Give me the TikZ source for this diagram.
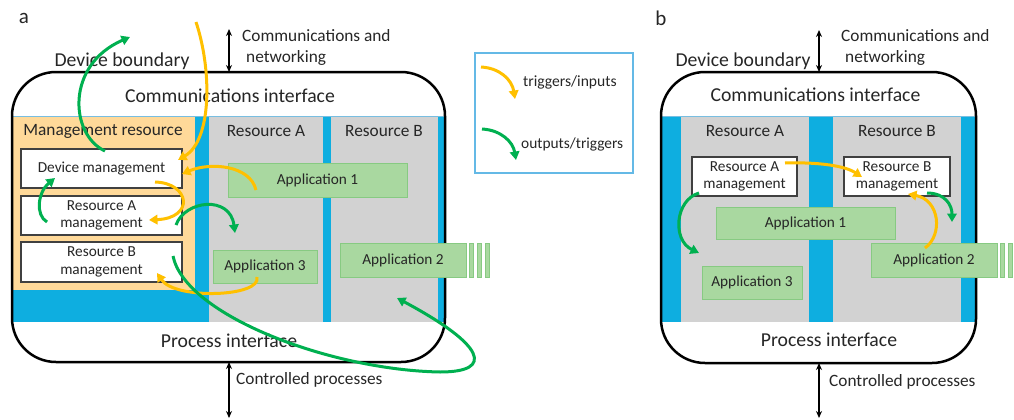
\documentclass[tikz,border=0pt]{standalone}
\usepackage{fontspec}
\setmainfont{Carlito}
\usetikzlibrary{arrows.meta}
\definecolor{cblue}{RGB}{14,174,224}
\definecolor{cgrey}{RGB}{210,210,210}
\definecolor{corange}{RGB}{255,217,153}
\definecolor{cgfill}{RGB}{169,216,160}
\definecolor{cgdraw}{RGB}{135,202,130}
\definecolor{cyel}{RGB}{255,192,0}
\definecolor{cgrn}{RGB}{0,176,80}
\definecolor{ctext}{RGB}{38,38,38}
\definecolor{clegend}{RGB}{100,185,230}
\definecolor{cthin}{RGB}{120,190,225}
\begin{document}
\begin{tikzpicture}[x=1pt,y=-1pt,
  lblbig/.style={font=\fontsize{19.7}{22}\selectfont, text=ctext, inner sep=0},
  lblmid/.style={font=\fontsize{17.3}{21}\selectfont, text=ctext, inner sep=0},
  lblsmall/.style={font=\fontsize{15.3}{17.5}\selectfont, text=ctext, inner sep=0},
  lblpanel/.style={font=\fontsize{21}{24}\selectfont, text=ctext, inner sep=0},
  mbox/.style={lblsmall, draw=black!75, fill=white, line width=1.2pt, align=center},
  appbox/.style={lblsmall, draw=cgdraw, fill=cgfill, line width=1pt},
  barbox/.style={fill=cgfill, draw=cgdraw, line width=0.6pt},
  yarr/.style={draw=cyel, line width=3pt, -{Triangle[length=8.5pt,width=9.5pt]}},
  garr/.style={draw=cgrn, line width=3pt, -{Triangle[length=8.5pt,width=9.5pt]}},
  dblarr/.style={draw=black, line width=1.6pt, {Stealth[length=7pt,width=6pt]}-{Stealth[length=7pt,width=6pt]}},
  boundary/.style={draw=black, line width=2.5pt, rounded corners=44pt},
]
\useasboundingbox (0,0) rectangle (1014,420);

%================ PANEL A ================
\fill[white] (12,72) [rounded corners=44pt] rectangle (445,362);
\fill[cblue] (12,116) rectangle (445,322);
\fill[corange] (12,116) rectangle (195,290);
\fill[cgrey] (209,116) rectangle (323,322);
\fill[cgrey] (331,116) rectangle (438,322);
\draw[cthin, line width=0.8pt] (12,116) -- (445,116);
\draw[boundary] (12,72) rectangle (445,362);

\node[lblpanel] (lbla) at (24,18) {a};
\node[lblbig] (devba) at (122,61) {Device boundary};
\node[lblmid, anchor=west, align=left] (comna) at (242,47) {Communications and\\\hspace{4pt}networking};
\node[lblbig] (cia) at (230,96) {Communications interface};
\node[lblbig] (pia) at (229,341) {Process interface};
\node[lblmid, anchor=west] (cpa) at (236,380) {Controlled processes};
\node[lblmid] (mra) at (103,131) {Management resource};
\node[lblmid] (rla) at (266,131) {Resource A};
\node[lblmid] (rlb) at (384,131) {Resource B};

\node[mbox, minimum width=161pt, minimum height=39pt] (dma) at (101.5,168.5) {Device management};
\node[mbox, minimum width=161pt, minimum height=39pt] (rama) at (101.5,215.5) {Resource A\\management};
\node[mbox, minimum width=161pt, minimum height=40pt] (rbma) at (101.5,262) {Resource B\\management};

\node[appbox, minimum width=179pt, minimum height=34pt] (app1a) at (317.5,180) {Application 1};
\node[appbox, minimum width=104pt, minimum height=33pt] (app3a) at (265,266.5) {Application 3};
\node[appbox, minimum width=126pt, minimum height=34pt] (app2a) at (403,260) {Application 2};
\filldraw[barbox] (469,243) rectangle (473.5,277);
\filldraw[barbox] (477,243) rectangle (481.5,277);
\filldraw[barbox] (485,243) rectangle (489.5,277);

\coordinate (ta1) at (229,29);
\coordinate (ta2) at (229,72);
\coordinate (ba1) at (229,362);
\coordinate (ba2) at (229,418);
\draw[dblarr] (ta1) -- (ta2);
\draw[dblarr] (ba1) -- (ba2);

% arrows panel a
\coordinate (y1s) at (196,22);   \coordinate (y1e) at (178,160);
\coordinate (y2s) at (256,190);  \coordinate (y2e) at (182,174);
\coordinate (y3s) at (155,182);  \coordinate (y3e) at (149,220);
\coordinate (y4s) at (257,277);  \coordinate (y4e) at (157,273);
\coordinate (g1s) at (105,151);  \coordinate (g1e) at (130,37);
\coordinate (g2s) at (47,222);   \coordinate (g2e) at (55,178);
\coordinate (g3s) at (176,225);  \coordinate (g3e) at (235,233);
\coordinate (g4s) at (173,256);  \coordinate (g4m) at (440,372); \coordinate (g4e) at (397,298);
\draw[yarr] (y1s) .. controls (212,70) and (212,140) .. (y1e);
\draw[yarr] (y2s) .. controls (250,165) and (210,162) .. (y2e);
\draw[yarr] (y3s) .. controls (190,183) and (195,218) .. (y3e);
\draw[yarr] (y4s) .. controls (262,297) and (175,300) .. (y4e);
\draw[garr] (g1s) .. controls (70,135) and (65,65) .. (g1e);
\draw[garr] (g2s) .. controls (35,215) and (38,192) .. (g2e);
\draw[garr] (g3s) .. controls (185,200) and (230,195) .. (g3e);
\draw[garr] (g4s) .. controls (185,315) and (330,370) .. (g4m) .. controls (495,372) and (485,345) .. (g4e);

%================ LEGEND ================
\node[draw=clegend, line width=1.2pt, minimum width=158pt, minimum height=120pt, inner sep=0] (leg) at (554,113) {};
\coordinate (lys) at (481,67);  \coordinate (lye) at (515,99);
\coordinate (lgs) at (482,129); \coordinate (lge) at (516,160);
\draw[yarr] (lys) .. controls (500,68) and (512,80) .. (lye);
\draw[garr] (lgs) .. controls (501,130) and (513,142) .. (lge);
\node[lblsmall, anchor=west, font=\fontsize{15.6}{18}\selectfont] (legy) at (523,82) {triggers/inputs};
\node[lblsmall, anchor=west, font=\fontsize{15.4}{18}\selectfont] (legg) at (521,144) {outputs/triggers};

%================ PANEL B ================
\fill[white] (661,72) [rounded corners=44pt] rectangle (976,363);
\fill[cblue] (661,116) rectangle (976,322);
\fill[cgrey] (681,116) rectangle (809,322);
\fill[cgrey] (833,116) rectangle (961,322);
\draw[cthin, line width=0.8pt] (661,116) -- (976,116);
\draw[boundary] (661,72) rectangle (976,363);

\node[lblpanel] (lblb) at (661,18) {b};
\node[lblbig] (devbb) at (743,61) {Device boundary};
\node[lblmid, anchor=west, align=left] (comnb) at (841,47.5) {Communications and\\\hspace{4pt}networking};
\node[lblbig] (cib) at (815.5,95) {Communications interface};
\node[lblbig] (pib) at (829,340) {Process interface};
\node[lblmid, anchor=west] (cpb) at (829,382) {Controlled processes};
\node[lblmid] (rlab) at (745,131) {Resource A};
\node[lblmid] (rlbb) at (897,131) {Resource B};

\node[mbox, minimum width=105pt, minimum height=39pt] (ramb) at (744.5,176.5) {Resource A\\management};
\node[mbox, minimum width=106pt, minimum height=39pt] (rbmb) at (897,176.5) {Resource B\\management};
\node[appbox, minimum width=179pt, minimum height=32pt] (app1b) at (805.5,223) {Application 1};
\node[appbox, minimum width=100pt, minimum height=33pt] (app3b) at (752,282.5) {Application 3};
\node[appbox, minimum width=126pt, minimum height=34pt] (app2b) at (934,260) {Application 2};
\filldraw[barbox] (1000,243) rectangle (1004.5,277);
\filldraw[barbox] (1008,243) rectangle (1012.5,277);

\coordinate (tb1) at (819,30);
\coordinate (tb2) at (819,72);
\coordinate (bb1) at (819,363);
\coordinate (bb2) at (819,418);
\draw[dblarr] (tb1) -- (tb2);
\draw[dblarr] (bb1) -- (bb2);

\coordinate (by1s) at (785,163); \coordinate (by1e) at (862,177);
\coordinate (bg1s) at (699,193); \coordinate (bg1e) at (699,253);
\coordinate (by2s) at (925,248); \coordinate (by2e) at (908,194);
\coordinate (bg2s) at (927,193); \coordinate (bg2e) at (952,222);
\draw[yarr] (by1s) .. controls (820,162) and (845,166) .. (by1e);
\draw[garr] (bg1s) .. controls (675,200) and (672,240) .. (bg1e);
\draw[yarr] (by2s) .. controls (943,235) and (940,200) .. (by2e);
\draw[garr] (bg2s) .. controls (945,193) and (952,205) .. (bg2e);
\end{tikzpicture}
\end{document}
